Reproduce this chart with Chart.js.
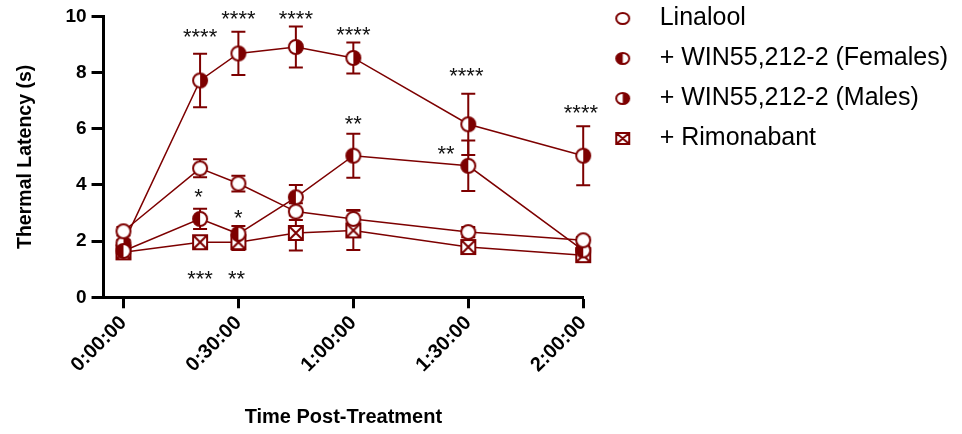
<!DOCTYPE html>
<html>
<head>
<meta charset="utf-8">
<script src="https://cdn.jsdelivr.net/npm/chart.js@4/dist/chart.umd.min.js"></script>
<style>
  html, body { margin: 0; padding: 0; background: #fff; }
  #wrap { width: 962px; height: 434px; }
</style>
</head>
<body>
<div id="wrap"><canvas id="chartLatency" width="962" height="434"></canvas></div>
<script>
// minutes after treatment
const timePoints = [0, 20, 30, 45, 60, 90, 120]
const xTicks = [0, 30, 60, 90, 120]
const xTickLabels = ['0:00:00', '0:30:00', '1:00:00', '1:30:00', '2:00:00']

const seriesNames = ['Linalool', '+ WIN55,212-2 (Females)', '+ WIN55,212-2 (Males)', '+ Rimonabant']

// mean thermal latency (s) and SEM
const linalool = [2.35, 4.59, 4.05, 3.05, 2.79, 2.32, 2.03]
const linaloolSem = [0.15, 0.32, 0.28, 0.3, 0.32, 0.18, 0.12]
const females = [1.65, 2.79, 2.26, 3.56, 5.04, 4.68, 1.67]
const femalesSem = [0.12, 0.36, 0.28, 0.44, 0.78, 0.9, 0.15]
const males = [1.92, 7.72, 8.68, 8.91, 8.52, 6.16, 5.04]
const malesSem = [0.12, 0.95, 0.77, 0.73, 0.55, 1.09, 1.05]
const rimonabant = [1.6, 1.96, 1.96, 2.29, 2.38, 1.79, 1.5]
const rimonabantSem = [0.08, 0.1, 0.28, 0.62, 0.7, 0.18, 0.1]

// significance marks: time, height (s), text
const starTimes = [20, 30, 45, 60, 89.5, 119.4, 19.6, 30, 60, 84.2, 20, 29.5]
const starLevels = [9.41, 10.06, 10.06, 9.49, 8.01, 6.69, 3.71, 2.97, 6.31, 5.25, 0.8, 0.8]
const starTexts = ['****', '****', '****', '****', '****', '****', '*', '*', '**', '**', '***', '**']

const maroon = '#7d0000'

function makeMarker (kind, w, h) {
  const c = document.createElement('canvas')
  c.width = w + 2
  c.height = h + 2
  const ctx = c.getContext('2d')
  const cx = c.width / 2
  const cy = c.height / 2
  const rx = w / 2 - 1
  const ry = h / 2 - 1
  ctx.lineWidth = 2
  ctx.strokeStyle = maroon
  ctx.fillStyle = '#fff'

  if (kind === 'square') {
    ctx.fillRect(cx - rx, cy - ry, rx * 2, ry * 2)
    ctx.beginPath()
    ctx.rect(cx - rx, cy - ry, rx * 2, ry * 2)
    ctx.moveTo(cx - rx, cy - ry)
    ctx.lineTo(cx + rx, cy + ry)
    ctx.moveTo(cx + rx, cy - ry)
    ctx.lineTo(cx - rx, cy + ry)
    ctx.stroke()
    return c
  }

  ctx.beginPath()
  ctx.ellipse(cx, cy, rx, ry, 0, 0, Math.PI * 2)
  ctx.fill()
  if (kind === 'left' || kind === 'right') {
    ctx.fillStyle = maroon
    ctx.beginPath()
    if (kind === 'left') ctx.ellipse(cx, cy, rx, ry, 0, Math.PI / 2, Math.PI * 1.5)
    else ctx.ellipse(cx, cy, rx, ry, 0, -Math.PI / 2, Math.PI / 2)
    ctx.closePath()
    ctx.fill()
  }
  ctx.beginPath()
  ctx.ellipse(cx, cy, rx, ry, 0, 0, Math.PI * 2)
  ctx.stroke()
  return c
}

const markerKinds = ['open', 'left', 'right', 'square']
const plotMarkers = markerKinds.map(k => makeMarker(k, 16, 16))
const legendMarkers = markerKinds.map(k => makeMarker(k, 15, 13))

const seriesValues = [linalool, females, males, rimonabant]
const seriesSem = [linaloolSem, femalesSem, malesSem, rimonabantSem]

const errorBarsPlugin = {
  id: 'errorBars',
  beforeDatasetsDraw: (chart) => {
    const { ctx, scales } = chart
    ctx.save()
    ctx.strokeStyle = maroon
    ctx.lineWidth = 2
    seriesValues.forEach((values, s) => {
      values.forEach((v, i) => {
        const sem = seriesSem[s][i]
        const x = scales.x.getPixelForValue(timePoints[i])
        const top = scales.y.getPixelForValue(v + sem)
        const bottom = scales.y.getPixelForValue(v - sem)
        ctx.beginPath()
        ctx.moveTo(x, top)
        ctx.lineTo(x, bottom)
        ctx.moveTo(x - 7, top)
        ctx.lineTo(x + 7, top)
        ctx.moveTo(x - 7, bottom)
        ctx.lineTo(x + 7, bottom)
        ctx.stroke()
      })
    })
    ctx.restore()
  }
}

const starsPlugin = {
  id: 'stars',
  afterDatasetsDraw: (chart) => {
    const { ctx, scales } = chart
    ctx.save()
    ctx.fillStyle = '#111'
    ctx.font = '22px "Liberation Sans", Arial, sans-serif'
    ctx.textAlign = 'center'
    ctx.textBaseline = 'middle'
    starTexts.forEach((text, i) => {
      const x = scales.x.getPixelForValue(starTimes[i])
      const y = scales.y.getPixelForValue(starLevels[i])
      ctx.fillText(text, x, y + 5)
    })
    ctx.restore()
  }
}

// legend sits higher than its layout box
const legendShiftPlugin = {
  id: 'legendShift',
  afterLayout: (chart) => {
    chart.legend.top -= 24
  }
}

Chart.defaults.font.family = '"Liberation Sans", Arial, sans-serif'
Chart.defaults.color = '#000'

new Chart(document.getElementById('chartLatency'), {
  type: 'line',
  data: {
    datasets: seriesNames.map((name, s) => ({
      label: name,
      data: seriesValues[s].map((v, i) => ({ x: timePoints[i], y: v })),
      borderColor: maroon,
      backgroundColor: maroon,
      borderWidth: 1.5,
      pointStyle: plotMarkers[s],
      tension: 0,
      clip: false
    }))
  },
  options: {
    responsive: false,
    animation: false,
    events: [],
    layout: {
      padding: { top: 15, right: 4, bottom: 2, left: 14 }
    },
    plugins: {
      tooltip: { enabled: false },
      legend: {
        position: 'right',
        align: 'start',
        maxWidth: 420,
        labels: {
          usePointStyle: true,
          pointStyleWidth: 49,
          padding: 15,
          color: '#000',
          font: { size: 25 },
          generateLabels: (chart) => Chart.defaults.plugins.legend.labels.generateLabels(chart)
            .map((item, i) => ({ ...item, pointStyle: legendMarkers[i] }))
        }
      }
    },
    scales: {
      x: {
        type: 'linear',
        min: -5.2,
        max: 120,
        afterBuildTicks: (axis) => {
          axis.ticks = xTicks.map(v => ({ value: v }))
        },
        ticks: {
          minRotation: 45,
          maxRotation: 45,
          padding: 3,
          font: { size: 20, weight: 'bold' },
          callback: (value, index) => xTickLabels[index]
        },
        grid: {
          drawOnChartArea: false,
          drawTicks: true,
          tickLength: 11,
          tickWidth: 3,
          tickColor: '#000'
        },
        border: { display: true, width: 3, color: '#000' },
        title: {
          display: true,
          text: 'Time Post-Treatment',
          font: { size: 20, weight: 'bold' },
          padding: { top: 25, bottom: 3 }
        }
      },
      y: {
        min: 0,
        max: 10,
        ticks: {
          stepSize: 2,
          padding: 5,
          font: { size: 19, weight: 'bold' }
        },
        grid: {
          drawOnChartArea: false,
          drawTicks: true,
          tickLength: 12,
          tickWidth: 3,
          tickColor: '#000'
        },
        border: { display: true, width: 3, color: '#000' },
        title: {
          display: true,
          text: 'Thermal Latency (s)',
          font: { size: 19.5, weight: 'bold' },
          padding: { top: 0, bottom: 23 }
        }
      }
    }
  },
  plugins: [errorBarsPlugin, starsPlugin, legendShiftPlugin]
})
</script>
</body>
</html>
